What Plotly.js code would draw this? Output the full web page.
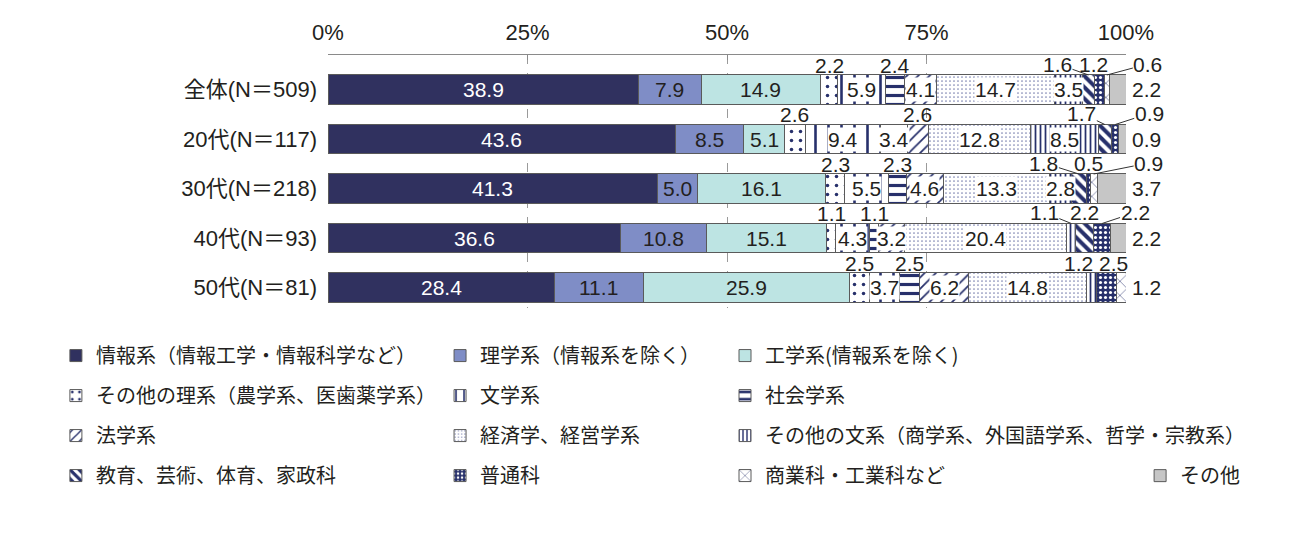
<!DOCTYPE html>
<html><head><meta charset="utf-8">
<script src="https://cdn.plot.ly/plotly-3.0.1.min.js"></script>
<style>html,body{margin:0;padding:0;background:#fff}</style>
</head><body><div id="chart" style="width:1300px;height:536px"></div>
<script>
// ---- data ----
const categories = ['全体(N＝509)', '20代(N＝117)', '30代(N＝218)', '40代(N＝93)', '50代(N＝81)'];
const tickValues = [0, 25, 50, 75, 100];
const tickLabels = ['0%', '25%', '50%', '75%', '100%'];
const seriesNames = [
  '情報系（情報工学・情報科学など）', '理学系（情報系を除く）', '工学系(情報系を除く)',
  'その他の理系（農学系、医歯薬学系）', '文学系', '社会学系',
  '法学系', '経済学、経営学系', 'その他の文系（商学系、外国語学系、哲学・宗教系）',
  '教育、芸術、体育、家政科', '普通科', '商業科・工業科など', 'その他'
];
const johoKei     = [38.9, 43.6, 41.3, 36.6, 28.4];
const rigakuKei   = [7.9, 8.5, 5.0, 10.8, 11.1];
const kougakuKei  = [14.9, 5.1, 16.1, 15.1, 25.9];
const sonotaRikei = [2.2, 2.6, 2.3, 1.1, 2.5];
const bungakuKei  = [5.9, 9.4, 5.5, 4.3, 3.7];
const shakaiKei   = [2.4, 3.4, 2.3, 1.1, 2.5];
const hougakuKei  = [4.1, 2.6, 4.6, 3.2, 6.2];
const keizaiKei   = [14.7, 12.8, 13.3, 20.4, 14.8];
const sonotaBunkei= [3.5, 8.5, 2.8, 1.1, 1.2];
const kyouikuKei  = [1.6, 1.7, 1.8, 2.2, 0];
const futsuuka    = [1.2, 0.9, 0.5, 2.2, 2.5];
const shougyouka  = [0.6, 0, 0.9, 0, 1.2];
const sonota      = [2.2, 0.9, 3.7, 2.2, 0];
const seriesValues = [johoKei, rigakuKei, kougakuKei, sonotaRikei, bungakuKei, shakaiKei,
  hougakuKei, keizaiKei, sonotaBunkei, kyouikuKei, futsuuka, shougyouka, sonota];

// ---- label placement (i: inside, a: above, l: leader, r: right of bar) ----
const placement = [
  ['i','i','i','a','i','a','i','i','i','l','l','l','r'],
  ['i','i','i','a','i','i','a','i','i','l','l','', 'r'],
  ['i','i','i','a','i','a','i','i','i','l','l','l','r'],
  ['i','i','i','a','i','a','i','i','l','l','l','', 'r'],
  ['i','i','i','a','i','a','i','i','a','', 'a','r','']
];
const leaderDx = {
  '0-9': -31, '0-10': -6, '0-11': 41,
  '1-9': -23, '1-10': 34,
  '2-9': -35, '2-10': 0, '2-11': 55,
  '3-8': -27, '3-9': 0, '3-10': 33
};
const aboveDx = {'4-8': -13, '4-10': 7};

// ---- styles ----
const NAVY = '#27306b';
const styles = [
  {color: '#30315f'},
  {color: '#7f8dc6'},
  {color: '#bde4e3'},
  {color: '#fff', pattern: {shape: '.', size: 9, solidity: 0.12, fgcolor: NAVY, bgcolor: '#fff', fillmode: 'replace'}},
  {color: '#fff', pattern: {shape: '|', size: 13, solidity: 0.2, fgcolor: NAVY, bgcolor: '#fff', fillmode: 'replace'}},
  {color: '#fff', pattern: {shape: '-', size: 9, solidity: 0.35, fgcolor: NAVY, bgcolor: '#fff', fillmode: 'replace'}},
  {color: '#fff', pattern: {shape: '/', size: 8, solidity: 0.22, fgcolor: NAVY, bgcolor: '#fff', fillmode: 'replace'}},
  {color: '#fff', pattern: {shape: '.', size: 4, solidity: 0.15, fgcolor: '#7f86b3', bgcolor: '#fff', fillmode: 'replace'}},
  {color: '#fff', pattern: {shape: '|', size: 5, solidity: 0.35, fgcolor: NAVY, bgcolor: '#fff', fillmode: 'replace'}},
  {color: '#fff', pattern: {shape: '\\', size: 8, solidity: 0.5, fgcolor: NAVY, bgcolor: '#fff', fillmode: 'replace'}},
  {color: NAVY, pattern: {shape: '.', size: 5, solidity: 0.3, fgcolor: '#fff', bgcolor: NAVY, fillmode: 'replace'}},
  {color: '#fff', pattern: {shape: 'x', size: 10, solidity: 0.1, fgcolor: NAVY, bgcolor: '#fff', fillmode: 'replace'}},
  {color: '#c6c6c6'}
];
const legendOf = ['legend','legend2','legend3','legend','legend2','legend3','legend','legend2','legend3','legend','legend2','legend3','legend4'];

const NUMFONT = '"Liberation Sans", Arial, "Noto Sans CJK JP", sans-serif';
const JPFONT = '"Noto Sans CJK JP", sans-serif';
const TXT = '#231f20';

const traces = seriesNames.map((name, s) => ({
  type: 'bar', orientation: 'h', name: name,
  y: categories, x: seriesValues[s],
  marker: Object.assign({line: {color: '#5a5a5a', width: 1}}, styles[s]),
  legend: legendOf[s], legendgroup: 'g' + s, showlegend: true,
  hoverinfo: 'skip', textposition: 'none'
}));

const annotations = [];
categories.forEach((cat, r) => {
  let cum = 0;
  seriesValues.forEach((vals, s) => {
    const v = vals[r];
    const mid = cum + v / 2;
    cum += v;
    const p = placement[r][s];
    if (!p) return;
    const txt = v.toFixed(1);
    const base = {xref: 'x', yref: 'y', y: cat, text: txt,
      font: {family: NUMFONT, size: 21, color: TXT}, showarrow: false, borderpad: 0};
    if (p === 'i') {
      base.x = mid;
      if (s === 0) base.font = {family: NUMFONT, size: 21, color: '#fff'};
      if (s >= 3) base.bgcolor = '#fff';
    } else if (p === 'a') {
      base.x = mid; base.yanchor = 'bottom'; base.yshift = 12;
      base.xshift = aboveDx[r + '-' + s] || 0;
    } else if (p === 'l') {
      base.x = mid; base.yshift = 14.5; base.showarrow = true;
      base.arrowhead = 0; base.arrowwidth = 1; base.arrowcolor = '#333';
      base.ax = leaderDx[r + '-' + s] || 0; base.ay = -11; base.standoff = 0;
    } else if (p === 'r') {
      base.x = 100; base.xanchor = 'left'; base.xshift = 5;
    }
    annotations.push(base);
  });
});

const legendBase = {xref: 'container', yref: 'container', xanchor: 'left', yanchor: 'top',
  orientation: 'v', traceorder: 'grouped', tracegroupgap: 11,
  font: {family: JPFONT, size: 20, color: TXT}, bgcolor: 'rgba(0,0,0,0)', itemclick: false};

const layout = {
  width: 1300, height: 536,
  margin: {l: 328, r: 174, t: 55, b: 228, autoexpand: false},
  paper_bgcolor: '#fff', plot_bgcolor: '#fff',
  barmode: 'stack', bargap: 0.41,
  font: {family: JPFONT, color: TXT},
  xaxis: {
    side: 'top', range: [0, 100], tickvals: tickValues, ticktext: tickLabels,
    showgrid: true, gridcolor: '#9a9a9a', griddash: 'dash', gridwidth: 1,
    showline: true, linecolor: '#8a8a8a', linewidth: 1,
    ticks: 'inside', ticklen: 5, tickcolor: '#8a8a8a',
    zeroline: false, ticklabelstandoff: 5, automargin: false,
    tickfont: {family: NUMFONT, size: 22, color: TXT}, fixedrange: true
  },
  yaxis: {
    type: 'category', range: [4.414, -0.697], showgrid: false, showline: false,
    zeroline: false, ticks: '', ticklabelstandoff: 10, automargin: false,
    tickfont: {family: NUMFONT, size: 22, color: TXT}, fixedrange: true
  },
  legend: Object.assign({}, legendBase, {x: 0.043, y: 0.373}),
  legend2: Object.assign({}, legendBase, {x: 0.3385, y: 0.373}),
  legend3: Object.assign({}, legendBase, {x: 0.5577, y: 0.373}),
  legend4: Object.assign({}, legendBase, {x: 0.877, y: 0.149}),
  annotations: annotations,
  showlegend: true
};

Plotly.newPlot('chart', traces, layout, {displayModeBar: false, staticPlot: true});
</script>
</body></html>
